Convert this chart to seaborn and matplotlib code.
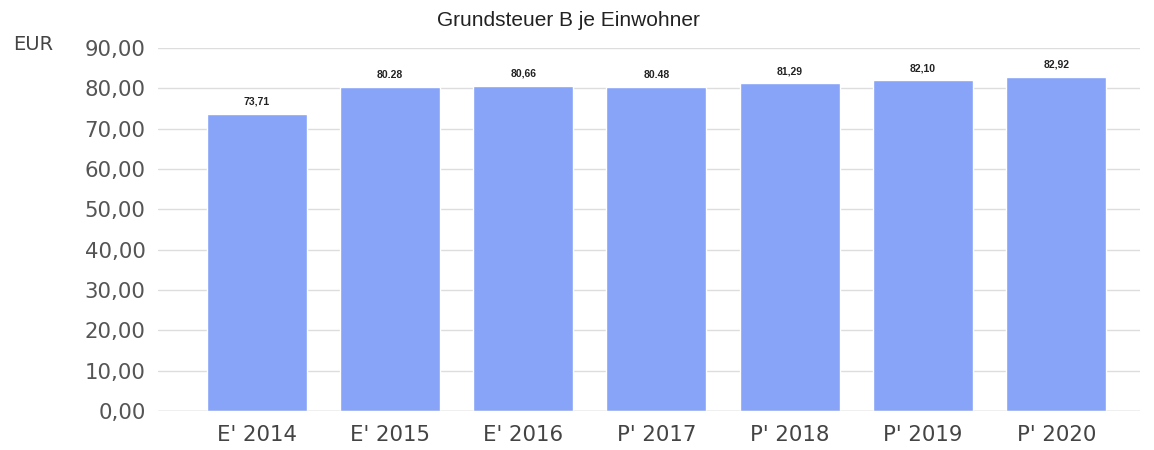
import matplotlib
matplotlib.use("Agg")
import matplotlib.pyplot as plt
import seaborn as sns
import pandas as pd

categories = ["E' 2014", "E' 2015", "E' 2016", "P' 2017", "P' 2018", "P' 2019", "P' 2020"]
values = [73.71, 80.28, 80.66, 80.48, 81.29, 82.10, 82.92]
value_labels = ["73,71", "80.28", "80,66", "80.48", "81,29", "82,10", "82,92"]
yticks = [0, 10, 20, 30, 40, 50, 60, 70, 80, 90]
ytick_labels = ["0,00", "10,00", "20,00", "30,00", "40,00", "50,00", "60,00", "70,00", "80,00", "90,00"]

sns.set_theme(style="white")
plt.rcParams['font.family'] = ['DejaVu Sans']

df = pd.DataFrame({"cat": categories, "val": values})

fig = plt.figure(figsize=(11.54, 4.5), dpi=100)
ax = fig.add_axes([0.137, 0.0867, 0.851, 0.8063])

sns.barplot(data=df, x="cat", y="val", color="#88a4f8", saturation=1, width=0.75, ax=ax)

ax.set_ylim(0, 90)
ax.set_xlim(-0.74, 6.63)
ax.set_yticks(yticks)
ax.set_yticklabels(ytick_labels, fontsize=15.3, color="#555555")
ax.tick_params(axis="x", labelsize=15.3, colors="#555555", length=0, pad=10)
ax.tick_params(axis="y", length=0, pad=9)
for lab in ax.get_xticklabels():
    lab.set_color("#444444")
ax.set_xlabel("")
ax.set_ylabel("")
ax.grid(axis="y", color="#dddddd", linewidth=1)
ax.set_axisbelow(True)
for s in ax.spines.values():
    s.set_visible(False)
ax.axhline(0, color="#cccccc", linewidth=1, zorder=3)

for i, (v, lab) in enumerate(zip(values, value_labels)):
    ax.annotate(lab, (i, v), xytext=(0, 5), textcoords="offset points",
                ha="center", va="bottom", fontsize=7.5, fontweight="bold",
                color="#222222", family="Liberation Sans")

fig.text(0.493, 0.955, "Grundsteuer B je Einwohner", ha="center", va="center",
         fontsize=15, family="Liberation Sans", color="#222222")
fig.text(0.011, 0.9, "EUR", ha="left", va="center", fontsize=14, color="#444444")

fig.savefig("out.png", dpi=100)
